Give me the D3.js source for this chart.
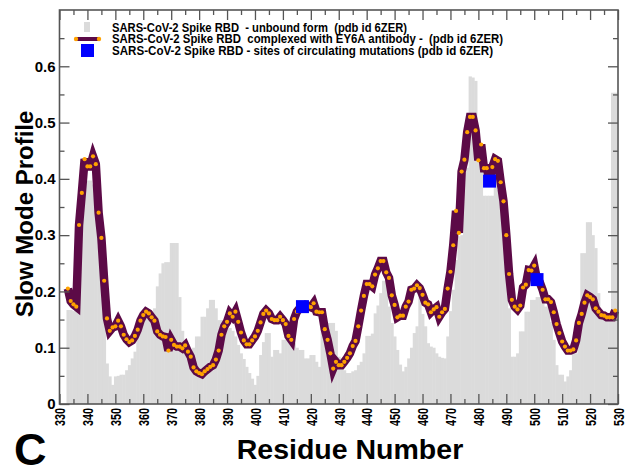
<!DOCTYPE html>
<html>
<head>
<meta charset="utf-8">
<script src="https://cdn.jsdelivr.net/npm/d3@7"></script>
<style>
  body { margin: 0; background: #fff; }
  text { font-family: "Liberation Sans", Arial, sans-serif; font-weight: bold; }
  .narrow { font-family: "Liberation Sans Narrow", "Liberation Sans", Arial, sans-serif; }
</style>
</head>
<body>
<div id="chart"></div>
<script>
// residue numbers, first one shown is 333
var startResidue = 333;

// unbound form (gray bars)
var unbound = [
  0.167, 0.167, 0.165, 0.165, 0.30, 0.37, 0.38, 0.397, 0.397, 0.39,
  0.33, 0.28, 0.22, 0.16, 0.072, 0.049, 0.034, 0.049, 0.05, 0.052,
  0.052, 0.06, 0.069, 0.081, 0.093, 0.126, 0.15, 0.155, 0.158, 0.161,
  0.161, 0.17, 0.209, 0.232, 0.25, 0.252, 0.252, 0.286, 0.286, 0.286,
  0.19, 0.13, 0.1, 0.09, 0.09, 0.1, 0.12, 0.12, 0.155, 0.155,
  0.17, 0.185, 0.185, 0.17, 0.149, 0.149, 0.149, 0.14, 0.135, 0.13,
  0.12, 0.105, 0.09, 0.08, 0.066, 0.055, 0.045, 0.034, 0.05, 0.087,
  0.11, 0.126, 0.126, 0.084, 0.096, 0.096, 0.09, 0.114, 0.114, 0.11,
  0.108, 0.108, 0.1, 0.096, 0.096, 0.081, 0.081, 0.087, 0.087, 0.075,
  0.066, 0.144, 0.144, 0.144, 0.144, 0.144, 0.13, 0.084, 0.066, 0.06,
  0.055, 0.055, 0.058, 0.06, 0.069, 0.075, 0.09, 0.121, 0.121, 0.125,
  0.161, 0.175, 0.197, 0.219, 0.219, 0.173, 0.144, 0.12, 0.096, 0.07,
  0.058, 0.066, 0.081, 0.1, 0.126, 0.138, 0.203, 0.16, 0.138, 0.108,
  0.102, 0.1, 0.09, 0.084, 0.082, 0.081, 0.12, 0.165, 0.203, 0.256,
  0.298, 0.3, 0.416, 0.42, 0.582, 0.58, 0.574, 0.47, 0.45, 0.37,
  0.37, 0.37, 0.37, 0.4, 0.38, 0.35, 0.3, 0.24, 0.17, 0.084,
  0.084, 0.09, 0.129, 0.129, 0.164, 0.164, 0.185, 0.185, 0.19, 0.19,
  0.19, 0.173, 0.173, 0.146, 0.114, 0.069, 0.052, 0.052, 0.04, 0.049,
  0.06, 0.09, 0.09, 0.138, 0.268, 0.268, 0.323, 0.323, 0.3, 0.277,
  0.197, 0.158, 0.158, 0.15, 0.15, 0.553, 0.553
];

// complexed with EY6A (line with dots)
var complexed = [
  0.205, 0.183, 0.177, 0.173, 0.318, 0.375, 0.435, 0.422, 0.422, 0.440,
  0.426, 0.340, 0.295, 0.219, 0.152, 0.130, 0.136, 0.138, 0.148, 0.138,
  0.123, 0.115, 0.110, 0.113, 0.121, 0.132, 0.148, 0.158, 0.164, 0.161,
  0.154, 0.148, 0.129, 0.123, 0.120, 0.119, 0.095, 0.114, 0.105, 0.102,
  0.102, 0.099, 0.104, 0.093, 0.084, 0.065, 0.058, 0.055, 0.053, 0.058,
  0.062, 0.066, 0.069, 0.079, 0.095, 0.123, 0.138, 0.146, 0.161, 0.155,
  0.164, 0.146, 0.127, 0.113, 0.106, 0.106, 0.113, 0.120, 0.130, 0.145,
  0.160, 0.166, 0.161, 0.151, 0.149, 0.149, 0.155, 0.149, 0.142, 0.121,
  0.114, 0.151, 0.164, 0.170, 0.173, 0.176, 0.174, 0.172, 0.179, 0.164,
  0.163, 0.163, 0.133, 0.114, 0.090, 0.063, 0.075, 0.069, 0.069, 0.075,
  0.082, 0.090, 0.103, 0.112, 0.138, 0.166, 0.192, 0.213, 0.213, 0.209,
  0.230, 0.241, 0.254, 0.254, 0.234, 0.224, 0.193, 0.176, 0.154, 0.157,
  0.157, 0.173, 0.182, 0.203, 0.205, 0.211, 0.206, 0.194, 0.180, 0.177,
  0.163, 0.168, 0.172, 0.155, 0.163, 0.169, 0.205, 0.235, 0.282, 0.343,
  0.304, 0.413, 0.434, 0.483, 0.510, 0.510, 0.486, 0.433, 0.461, 0.419,
  0.419, 0.396, 0.421, 0.435, 0.432, 0.394, 0.360, 0.300, 0.231, 0.185,
  0.173, 0.168, 0.175, 0.207, 0.212, 0.238, 0.237, 0.246, 0.221, 0.216,
  0.203, 0.186, 0.186, 0.181, 0.163, 0.142, 0.126, 0.111, 0.102, 0.095,
  0.095, 0.097, 0.113, 0.144, 0.160, 0.180, 0.193, 0.190, 0.186, 0.170,
  0.164, 0.158, 0.157, 0.154, 0.154, 0.154, 0.166
];

// sites of circulating mutations
var mutationSites = [417, 484, 501];
var mutationValues = [0.173, 0.396, 0.221];

var legendLabels = [
  'SARS-CoV-2 Spike RBD  - unbound form  (pdb id 6ZER)',
  'SARS-CoV-2 Spike RBD  complexed with EY6A antibody -  (pdb id 6ZER)',
  'SARS-CoV-2 Spike RBD - sites of circulating mutations (pdb id 6ZER)'
];
var legendWidths = [295, 391, 381];

var width = 626,
    height = 467;

var svg = d3.select('#chart').append('svg')
  .attr('width', width)
  .attr('height', height);

var x = d3.scaleLinear().domain([330, 530]).range([59.5, 618]);
var y = d3.scaleLinear().domain([0, 0.7]).range([404, 10]);

var axisColor = '#555';

// gray bars
svg.append('g').selectAll('rect')
  .data(unbound)
  .enter().append('rect')
  .attr('x', function(d, i) { return x(startResidue + i - 0.5); })
  .attr('width', function(d, i) { return x(startResidue + i + 0.5) - x(startResidue + i - 0.5) + 0.5; })
  .attr('y', function(d) { return y(d); })
  .attr('height', function(d) { return y(0) - y(d); })
  .attr('fill', '#dbdbdb');

// complexed line
var line = d3.line()
  .x(function(d, i) { return x(startResidue + i); })
  .y(function(d) { return y(d); });

svg.append('path')
  .attr('d', line(complexed))
  .attr('fill', 'none')
  .attr('stroke', '#5c0a47')
  .attr('stroke-width', 8.5)
  .attr('stroke-linejoin', 'miter')
  .attr('stroke-miterlimit', 4);

svg.append('g').selectAll('circle')
  .data(complexed)
  .enter().append('circle')
  .attr('cx', function(d, i) { return x(startResidue + i); })
  .attr('cy', function(d) { return y(d); })
  .attr('r', 2.1)
  .attr('fill', '#ffa200');

// mutation squares
svg.append('g').selectAll('rect')
  .data(mutationSites)
  .enter().append('rect')
  .attr('x', function(d) { return x(d) - 6.5; })
  .attr('y', function(d, i) { return y(mutationValues[i]) - 6.5; })
  .attr('width', 13)
  .attr('height', 13)
  .attr('fill', '#0000ff');

// axes: ticks inside the frame on all four sides
function styleAxis(g) {
  g.select('.domain').remove();
  g.selectAll('line').attr('stroke', axisColor).attr('stroke-width', 1.3);
}

var xMajor = d3.range(330, 531, 10);
var xMinor = d3.range(335, 530, 10);
var yMajor = d3.range(0, 7).map(function(d) { return d / 10; });
var yMinor = d3.range(0, 7).map(function(d) { return d / 10 + 0.05; });

var xAxisG = svg.append('g')
  .attr('transform', 'translate(0,' + y(0) + ')')
  .call(d3.axisBottom(x).tickValues(xMajor).tickSize(-10).tickSizeOuter(0).tickPadding(4))
  .call(styleAxis);

xAxisG.selectAll('text')
  .attr('class', 'narrow')
  .attr('transform', 'rotate(-90)')
  .attr('x', -4)
  .attr('y', 0)
  .attr('dy', '0.35em')
  .attr('text-anchor', 'end')
  .attr('fill', '#000')
  .attr('textLength', 18)
  .attr('lengthAdjust', 'spacingAndGlyphs')
  .style('font-size', '15px');

svg.append('g')
  .attr('transform', 'translate(0,' + y(0) + ')')
  .call(d3.axisBottom(x).tickValues(xMinor).tickSize(-5).tickSizeOuter(0).tickFormat(''))
  .call(styleAxis);

svg.append('g')
  .attr('transform', 'translate(0,' + y(0.7) + ')')
  .call(d3.axisTop(x).tickValues(xMajor).tickSize(-10).tickSizeOuter(0).tickFormat(''))
  .call(styleAxis);

svg.append('g')
  .attr('transform', 'translate(0,' + y(0.7) + ')')
  .call(d3.axisTop(x).tickValues(xMinor).tickSize(-5).tickSizeOuter(0).tickFormat(''))
  .call(styleAxis);

svg.append('g')
  .attr('transform', 'translate(' + x(330) + ',0)')
  .call(d3.axisLeft(y).tickValues(yMajor).tickSize(-10).tickSizeOuter(0).tickPadding(4)
    .tickFormat(function(d) { return d === 0 ? '0' : d.toFixed(1); }))
  .call(styleAxis)
  .selectAll('text')
  .attr('fill', '#000')
  .style('font-size', '15px');

svg.append('g')
  .attr('transform', 'translate(' + x(330) + ',0)')
  .call(d3.axisLeft(y).tickValues(yMinor).tickSize(-5).tickSizeOuter(0).tickFormat(''))
  .call(styleAxis);

svg.append('g')
  .attr('transform', 'translate(' + x(530) + ',0)')
  .call(d3.axisRight(y).tickValues(yMajor).tickSize(-10).tickSizeOuter(0).tickFormat(''))
  .call(styleAxis);

svg.append('g')
  .attr('transform', 'translate(' + x(530) + ',0)')
  .call(d3.axisRight(y).tickValues(yMinor).tickSize(-5).tickSizeOuter(0).tickFormat(''))
  .call(styleAxis);

// frame
svg.append('rect')
  .attr('x', x(330))
  .attr('y', y(0.7))
  .attr('width', x(530) - x(330))
  .attr('height', y(0) - y(0.7))
  .attr('fill', 'none')
  .attr('stroke', axisColor)
  .attr('stroke-width', 1.6);

// legend
var legend = svg.append('g');
legend.append('rect')
  .attr('x', 84).attr('y', 22).attr('width', 6).attr('height', 10)
  .attr('fill', '#dbdbdb');
legend.append('line')
  .attr('x1', 76).attr('x2', 99).attr('y1', 39).attr('y2', 39)
  .attr('stroke', '#5c0a47').attr('stroke-width', 4);
legend.selectAll('circle.end')
  .data([76, 99])
  .enter().append('circle')
  .attr('cx', function(d) { return d; }).attr('cy', 39).attr('r', 2.2)
  .attr('fill', '#ffa200');
legend.append('rect')
  .attr('x', 81).attr('y', 44).attr('width', 13).attr('height', 13)
  .attr('fill', '#0000ff');

legend.selectAll('text')
  .data(legendLabels)
  .enter().append('text')
  .attr('class', 'narrow')
  .attr('x', 112)
  .attr('y', function(d, i) { return 31.5 + i * 11.5; })
  .attr('textLength', function(d, i) { return legendWidths[i]; })
  .attr('lengthAdjust', 'spacingAndGlyphs')
  .style('font-size', '13.5px')
  .style('white-space', 'pre')
  .attr('xml:space', 'preserve')
  .text(function(d) { return d; });

// axis titles
svg.append('text')
  .attr('transform', 'translate(33,' + 214 + ') rotate(-90)')
  .attr('text-anchor', 'middle')
  .style('font-size', '24px')
  .text('Slow Mode Profile');

svg.append('text')
  .attr('x', 350)
  .attr('y', 459)
  .attr('text-anchor', 'middle')
  .style('font-size', '28.5px')
  .text('Residue Number');

svg.append('text')
  .attr('x', 14)
  .attr('y', 465)
  .style('font-size', '45px')
  .text('C');
</script>
</body>
</html>
